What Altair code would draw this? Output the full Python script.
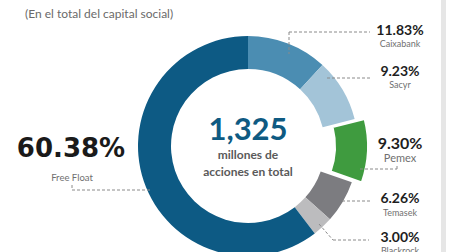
import altair as alt
import pandas as pd

# ---- data ----
names = ["Caixabank", "Sacyr", "Pemex", "Temasek", "Blackrock", "Free Float"]
shares = [11.83, 9.23, 9.30, 6.26, 3.00, 60.38]
pct_labels = ["11.83%", "9.23%", "9.30%", "6.26%", "3.00%", "60.38%"]
colors = ["#4b8db2", "#a3c4d8", "#3f9b3f", "#7c7c80", "#bcbcbe", "#0d5a84"]
total_text = "1,325"
center_lines = ["millones de", "acciones en total"]
subtitle = "(En el total del capital social)"

# ---- layout (pixels) ----
W, H = 449, 252
CX, CY = 248, 146
R_OUT, R_IN = 110, 77
EXPLODE = 10
label_x = 400
pct_y = [31, 71.5, 144, 199, 238]
name_y = [44, 84.5, 159, 212.5, 251]
leaders = [
    (289, 32, 370, 32), (289, 32, 289, 54),
    (327, 78, 370, 78),
    (360, 169, 397, 169), (397, 169, 397, 164),
    (342, 201, 370, 201),
    (319, 224, 333, 240), (333, 240, 369, 240),
    (72, 185, 72, 190), (72, 190, 150, 190),
]

df = pd.DataFrame({"name": names, "value": shares, "idx": list(range(len(names)))})

color_scale = alt.Scale(domain=names, range=colors)

base = alt.Chart(df).encode(
    theta=alt.Theta("value:Q", stack=True),
    order=alt.Order("idx:Q"),
    color=alt.Color("name:N", scale=color_scale, legend=None),
)

ring = base.mark_arc(outerRadius=R_OUT, innerRadius=R_IN).encode(
    x=alt.value(CX), y=alt.value(CY),
    opacity=alt.condition(alt.datum.name == "Pemex", alt.value(0), alt.value(1)),
)

pemex = base.mark_arc(outerRadius=R_OUT, innerRadius=R_IN, stroke="white", strokeWidth=2).encode(
    x=alt.value(CX + EXPLODE), y=alt.value(CY),
    opacity=alt.condition(alt.datum.name == "Pemex", alt.value(1), alt.value(0)),
)

seg_df = pd.DataFrame(leaders, columns=["x", "y", "x2", "y2"])
lead = alt.Chart(seg_df).mark_rule(color="#8a8a8a", strokeWidth=1, strokeDash=[3, 2]).encode(
    x=alt.X("x:Q", scale=None), y=alt.Y("y:Q", scale=None),
    x2="x2:Q", y2="y2:Q",
)

edge = alt.Chart(pd.DataFrame({"a": [0]})).mark_rect(color="#e6e6e6").encode(
    x=alt.value(441), x2=alt.value(446), y=alt.value(0), y2=alt.value(H)
)

# right-side labels
r_df = pd.DataFrame({
    "pct": pct_labels[:5], "name": names[:5],
    "py": pct_y, "ny": name_y,
    "big": [n == "Pemex" for n in names[:5]],
})
pct_text = alt.Chart(r_df).mark_text(font="Lato", fontWeight="bold", align="center",
                                     baseline="middle", color="#1e1e1e").encode(
    x=alt.value(label_x), y=alt.Y("py:Q", scale=None), text="pct:N",
    size=alt.condition(alt.datum.big, alt.value(16), alt.value(14)),
)
name_text = alt.Chart(r_df).mark_text(font="Lato", align="center", baseline="middle",
                                      color="#707070").encode(
    x=alt.value(label_x), y=alt.Y("ny:Q", scale=None), text="name:N",
    size=alt.condition(alt.datum.big, alt.value(11), alt.value(9)),
)

ff_pct = alt.Chart(pd.DataFrame({"t": [pct_labels[5]]})).mark_text(
    font="DejaVu Sans", fontWeight="bold", fontSize=26, align="center", baseline="middle",
    color="#1a1a1a").encode(x=alt.value(71), y=alt.value(149), text="t:N")
ff_name = alt.Chart(pd.DataFrame({"t": [names[5]]})).mark_text(
    font="Lato", fontSize=9.5, align="center", baseline="middle",
    color="#707070").encode(x=alt.value(72), y=alt.value(178), text="t:N")

total = alt.Chart(pd.DataFrame({"t": [total_text]})).mark_text(
    font="Lato", fontWeight="bold", fontSize=31, align="center", baseline="middle",
    color="#0e5a82").encode(x=alt.value(CX), y=alt.value(131), text="t:N")
c1 = alt.Chart(pd.DataFrame({"t": [center_lines[0]]})).mark_text(
    font="Lato", fontWeight="bold", fontSize=12, align="center", baseline="middle",
    color="#5a5a5a").encode(x=alt.value(CX), y=alt.value(155), text="t:N")
c2 = alt.Chart(pd.DataFrame({"t": [center_lines[1]]})).mark_text(
    font="Lato", fontWeight="bold", fontSize=12, align="center", baseline="middle",
    color="#5a5a5a").encode(x=alt.value(CX), y=alt.value(172), text="t:N")

sub = alt.Chart(pd.DataFrame({"t": [subtitle]})).mark_text(
    font="Lato", fontSize=12, align="left", baseline="middle",
    color="#6a6a6a").encode(x=alt.value(25), y=alt.value(13.5), text="t:N")

chart = alt.layer(
    edge, ring, pemex, lead, pct_text, name_text, ff_pct, ff_name, total, c1, c2, sub
).properties(
    width=W, height=H, autosize=alt.AutoSizeParams(type="none"), padding=0,
    background="white",
).configure_view(stroke=None)

chart.save("out.html", embed_options={"renderer": "svg", "actions": False})
